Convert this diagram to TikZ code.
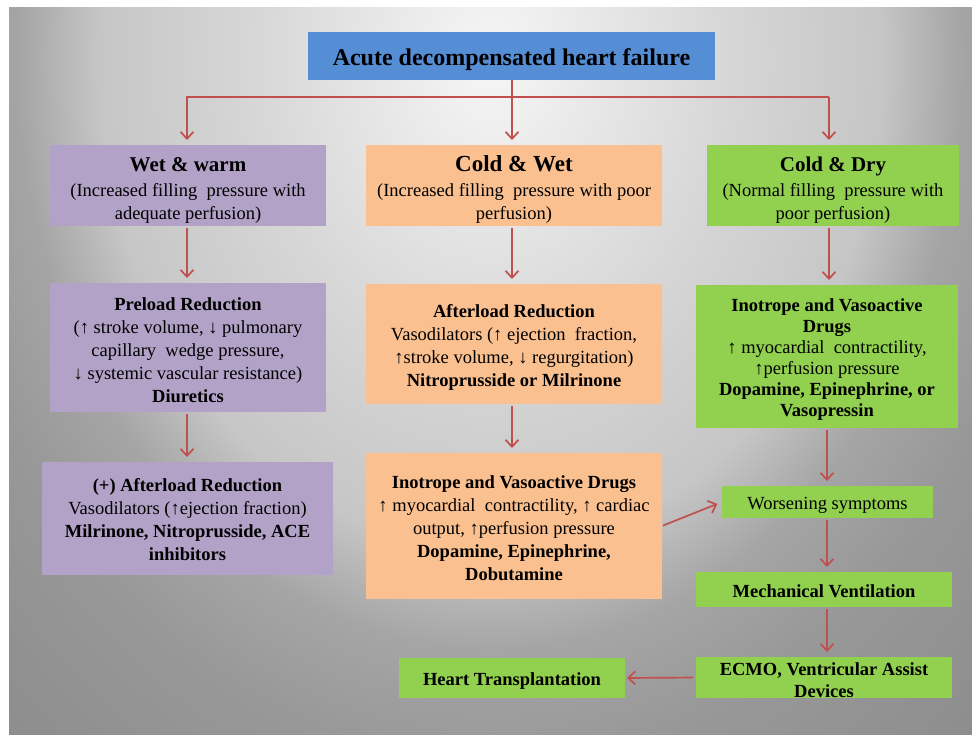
\documentclass[tikz,border=0pt]{standalone}
\usepackage{fontspec}
\setmainfont{Liberation Serif}
\usetikzlibrary{arrows.meta}
\definecolor{hfblue}{RGB}{85,142,213}
\definecolor{hflav}{RGB}{179,162,199}
\definecolor{hfpeach}{RGB}{250,192,144}
\definecolor{hfgreen}{RGB}{146,208,80}
\definecolor{hfred}{RGB}{192,80,77}
\pgfdeclareradialshading{bgsh}{\pgfpoint{0bp}{0bp}}{%
rgb(0bp)=(0.965,0.965,0.965);
rgb(240bp)=(0.84,0.84,0.84);
rgb(390bp)=(0.776,0.776,0.776);
rgb(470bp)=(0.647,0.647,0.647);
rgb(560bp)=(0.596,0.596,0.596);
rgb(800bp)=(0.533,0.533,0.533);
rgb(900bp)=(0.533,0.533,0.533)}
\newcommand\hfhead[2][21]{{\fontsize{#1}{25}\selectfont\bfseries #2}}
\tikzset{
  box/.style={rectangle, inner sep=0pt, outer sep=0pt, align=center, text=black,
    text depth=0pt, font=\fontsize{18.5}{23}\selectfont},
  arr/.style={draw=hfred, line width=1.7pt, line join=miter,
    -{Straight Barb[length=7pt,width=13pt]}, shorten >=5pt},
}
\begin{document}
\begin{tikzpicture}[x=1pt,y=-1pt]
\useasboundingbox (0,0) rectangle (972,734);
\fill[white] (0,0) rectangle (972,734);
\begin{scope}
  \clip (9,7) rectangle (972,734);
  \begin{scope}[shift={(490,60)}, yscale=1.25]
    \node[inner sep=0pt, outer sep=0pt, transform shape] (bg) at (0,0) {\pgfuseshading{bgsh}};
  \end{scope}
\end{scope}

% nodes
\node[box, fill=hfblue, minimum width=407pt, minimum height=48pt, text height=18.4pt,
  font=\fontsize{24}{28}\selectfont\bfseries] (title) at (511.5,56) {Acute decompensated heart failure};

\node[box, fill=hflav, minimum width=276pt, minimum height=81pt, text height=67.9pt] (ww) at (188,185.5)
  {\hfhead{Wet \& warm}\\[2pt](Increased filling~ pressure with\\adequate perfusion)};
\node[box, fill=hfpeach, minimum width=296pt, minimum height=81pt, text height=68pt] (cw) at (514,185.5)
  {\hfhead[23]{Cold \& Wet}\\[2pt](Increased filling~ pressure with poor\\perfusion)};
\node[box, fill=hfgreen, minimum width=252pt, minimum height=81pt, text height=68pt] (cd) at (833,185.5)
  {\hfhead{Cold \& Dry}\\[2pt](Normal filling~ pressure with\\poor perfusion)};

\node[box, fill=hflav, minimum width=276pt, minimum height=129pt, text height=110.6pt] (pre) at (188,347.5)
  {\textbf{Preload Reduction}\\(↑ stroke volume, ↓ pulmonary\\capillary~ wedge pressure,\\↓ systemic vascular resistance)\\\textbf{Diuretics}};
\node[box, fill=hfpeach, minimum width=296pt, minimum height=120pt, text height=84.8pt] (aft) at (514,344)
  {\textbf{Afterload Reduction}\\Vasodilators (↑ ejection~ fraction,\\↑stroke volume, ↓ regurgitation)\\\textbf{Nitroprusside or Milrinone}};
\node[box, fill=hfgreen, minimum width=262pt, minimum height=143pt, text height=120.6pt,
  font=\fontsize{18.5}{21}\selectfont] (ino2) at (827,356.5)
  {\textbf{Inotrope and Vasoactive}\\\textbf{Drugs}\\↑ myocardial~ contractility,\\↑perfusion pressure\\\textbf{Dopamine, Epinephrine, or}\\\textbf{Vasopressin}};

\node[box, fill=hflav, minimum width=291pt, minimum height=113pt, text height=83.8pt] (padd) at (187.5,518.5)
  {\textbf{(+) Afterload Reduction}\\Vasodilators (↑ejection fraction)\\\textbf{Milrinone, Nitroprusside, ACE}\\\textbf{inhibitors}};
\node[box, fill=hfpeach, minimum width=296pt, minimum height=146pt, text height=108.6pt] (ino1) at (514,526)
  {\textbf{Inotrope and Vasoactive Drugs}\\↑ myocardial~ contractility, ↑ cardiac\\output, ↑perfusion pressure\\\textbf{Dopamine, Epinephrine,}\\\textbf{Dobutamine}};

\node[box, fill=hfgreen, minimum width=211pt, minimum height=32pt, text height=14.6pt] (wors) at (827.5,502)
  {Worsening symptoms};
\node[box, fill=hfgreen, minimum width=256pt, minimum height=35pt, text height=16.6pt] (mech) at (824,589.5)
  {\textbf{Mechanical Ventilation}};
\node[box, fill=hfgreen, minimum width=256pt, minimum height=41pt, text height=39.6pt,
  font=\fontsize{18.5}{22}\selectfont] (ecmo) at (824,677.5)
  {\textbf{ECMO, Ventricular Assist}\\\textbf{Devices}};
\node[box, fill=hfgreen, minimum width=226pt, minimum height=40pt, text height=14.6pt] (heart) at (512,678)
  {\textbf{Heart Transplantation}};

% connectors
\coordinate (jl) at (187,97);
\coordinate (jr) at (829,97);
\coordinate (jm) at (512,97);
\draw[arr] (jr) -- (jl) -- (jl |- ww.north);
\draw[arr] (jr) -- (jr |- cd.north);
\draw[arr] (title.south -| jm) -- (jm |- cw.north);

\draw[arr, shorten <=2pt] (ww.south -| jl) -- (pre.north -| jl);
\draw[arr, shorten <=2pt] (pre.south -| jl) -- (padd.north -| jl);
\draw[arr, shorten <=2pt] (cw.south -| jm) -- (aft.north -| jm);
\draw[arr, shorten <=2pt] (aft.south -| jm) -- (ino1.north -| jm);
\draw[arr, shorten <=2pt] (cd.south -| jr) -- (ino2.north -| jr);
\draw[arr, shorten <=2pt] (ino2.south) -- (ino2.south |- wors.north);
\draw[arr, shorten <=2pt] (ino2.south |- wors.south) -- (ino2.south |- mech.north);
\draw[arr, shorten <=2pt] (ino2.south |- mech.south) -- (ino2.south |- ecmo.north);
\draw[arr, shorten <=1pt] (ino1.east) -- (wors.west);
\draw[arr, shorten >=2pt, shorten <=3pt] (ecmo.west) -- (heart.east);
\end{tikzpicture}
\end{document}
